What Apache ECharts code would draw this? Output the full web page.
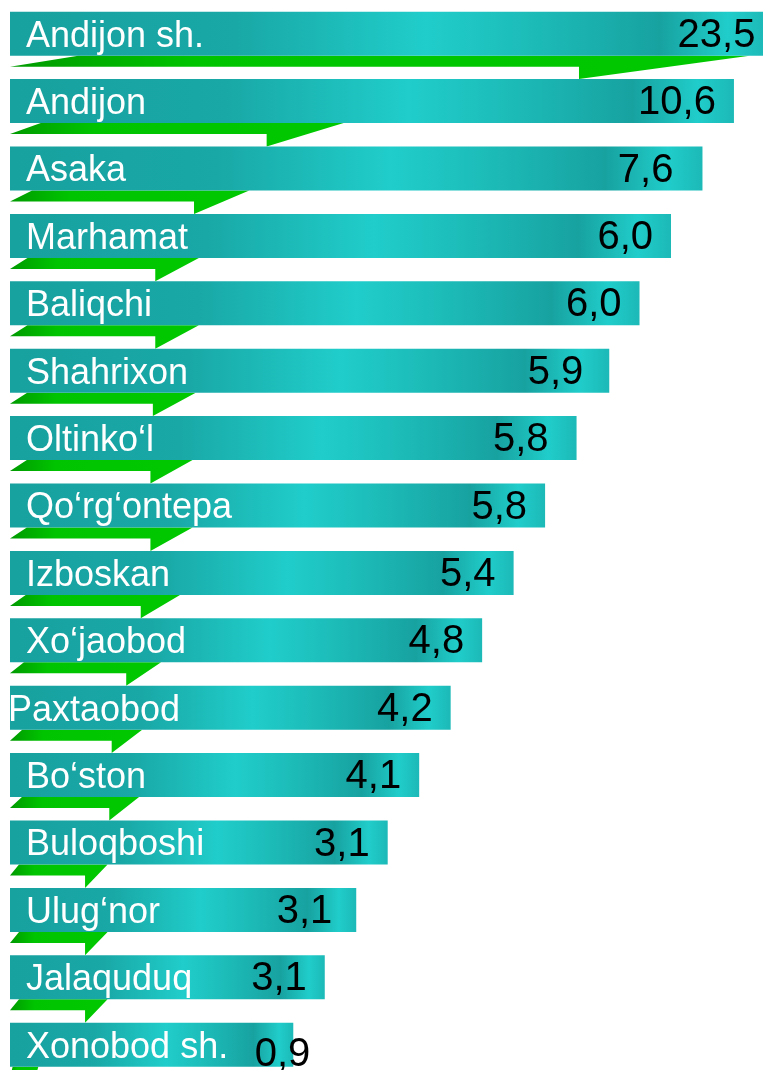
<!DOCTYPE html>
<html>
<head>
<meta charset="utf-8">
<script src="https://cdn.jsdelivr.net/npm/echarts@6/dist/echarts.min.js"></script>
<style>
html, body { margin: 0; padding: 0; background: #fff; }
#main { width: 763px; height: 1070px; }
</style>
</head>
<body>
<div id="main"></div>
<script>
var categories = ['Andijon sh.', 'Andijon', 'Asaka', 'Marhamat', 'Baliqchi', 'Shahrixon', 'Oltinko‘l', 'Qo‘rg‘ontepa',
    'Izboskan', 'Xo‘jaobod', 'Paxtaobod', 'Bo‘ston', 'Buloqboshi', 'Ulug‘nor', 'Jalaquduq', 'Xonobod sh.'];
var values = [23.5, 10.6, 7.6, 6.0, 6.0, 5.9, 5.8, 5.8, 5.4, 4.8, 4.2, 4.1, 3.1, 3.1, 3.1, 0.9];
// length of the teal plates (staircase), same units as the values
var plateLengths = [31.2, 29.9, 28.6, 27.3, 26.0, 24.75, 23.4, 22.1, 20.8, 19.5, 18.2, 16.9, 15.6, 14.3, 13.0, 11.7];

var myChart = echarts.init(document.getElementById('main'));
var FONT = '"Liberation Sans", Arial, sans-serif';
// small per-label nudges, as placed in the original
var nameShift = { 'Paxtaobod': -18 };
var valueShift = {
    'Andijon sh.': [8, 0], 'Asaka': [-11, 0], 'Shahrixon': [-8, 0], 'Oltinko‘l': [-10, 0],
    'Ulug‘nor': [-6, 0], 'Xonobod sh.': [35, 8]
};

var tealGrad = new echarts.graphic.LinearGradient(0, 0, 1, 0, [
    { offset: 0, color: '#17a19f' },
    { offset: 0.3, color: '#19a8a6' },
    { offset: 0.55, color: '#20cdca' },
    { offset: 0.7, color: '#1cbab7' },
    { offset: 0.86, color: '#17a2a0' },
    { offset: 0.95, color: '#20cdca' },
    { offset: 1, color: '#1cb9b7' }
]);
var greenGrad = new echarts.graphic.LinearGradient(0, 0, 1, 0, [
    { offset: 0, color: '#009a00' },
    { offset: 0.25, color: '#00c400' },
    { offset: 1, color: '#00c800' }
]);

var fmt = function (v) {
    return v.toFixed(1).replace('.', ',');
};

var ribbonData = [];
var plateData = [];
for (var i = 0; i < categories.length; i++) {
    ribbonData.push([values[i], i]);
    plateData.push([plateLengths[i], i, values[i]]);
}

option = {
    animation: false,
    backgroundColor: '#fff',
    grid: { left: 10, right: 0, top: 0, bottom: 0 },
    xAxis: { type: 'value', min: 0, max: 31.1, show: false },
    // row index axis; the last row is cut by the bottom edge
    yAxis: { type: 'value', min: -0.5, max: 15.375, inverse: true, show: false },
    series: [
        {
            // green folded ribbon: tip sits at the value
            type: 'custom',
            data: ribbonData,
            clip: false,
            renderItem: function (params, api) {
                var v = api.value(0);
                var idx = api.value(1);
                var c = api.coord([0, idx]);
                var band = api.size([0, 1])[1];
                var yb = c[1] + 22;
                var yr = yb + 11;
                var yt = c[1] + band - 22;
                var x0 = c[0];
                var xl = api.coord([v * 0.12, idx])[0];
                var xr = api.coord([v * 1.3, idx])[0];
                var xt = api.coord([v, idx])[0];
                return {
                    type: 'polygon',
                    shape: { points: [[x0, yr], [xl, yb], [xr, yb], [xt, yt], [xt, yr]] },
                    style: { fill: greenGrad }
                };
            }
        },
        {
            type: 'custom',
            data: plateData,
            clip: false,
            renderItem: function (params, api) {
                var len = api.value(0);
                var idx = api.value(1);
                var v = api.value(2);
                var s = api.coord([0, idx]);
                var e = api.coord([len, idx]);
                var name = categories[idx];
                var vs = valueShift[name] || [0, 0];
                return {
                    type: 'group',
                    children: [
                        {
                            type: 'rect',
                            shape: { x: s[0], y: s[1] - 22, width: e[0] - s[0], height: 44 },
                            style: { fill: tealGrad }
                        },
                        {
                            type: 'text',
                            style: {
                                x: s[0] + 16 + (nameShift[name] || 0), y: s[1] + 3,
                                text: name, fill: '#fff',
                                font: '36px ' + FONT,
                                textAlign: 'left', textVerticalAlign: 'middle'
                            }
                        },
                        {
                            type: 'text',
                            style: {
                                x: e[0] - 18 + vs[0], y: s[1] + 2 + vs[1],
                                text: fmt(v), fill: '#000',
                                font: '40px ' + FONT,
                                textAlign: 'right', textVerticalAlign: 'middle'
                            }
                        }
                    ]
                };
            }
        }
    ]
};

myChart.setOption(option);
</script>
</body>
</html>
